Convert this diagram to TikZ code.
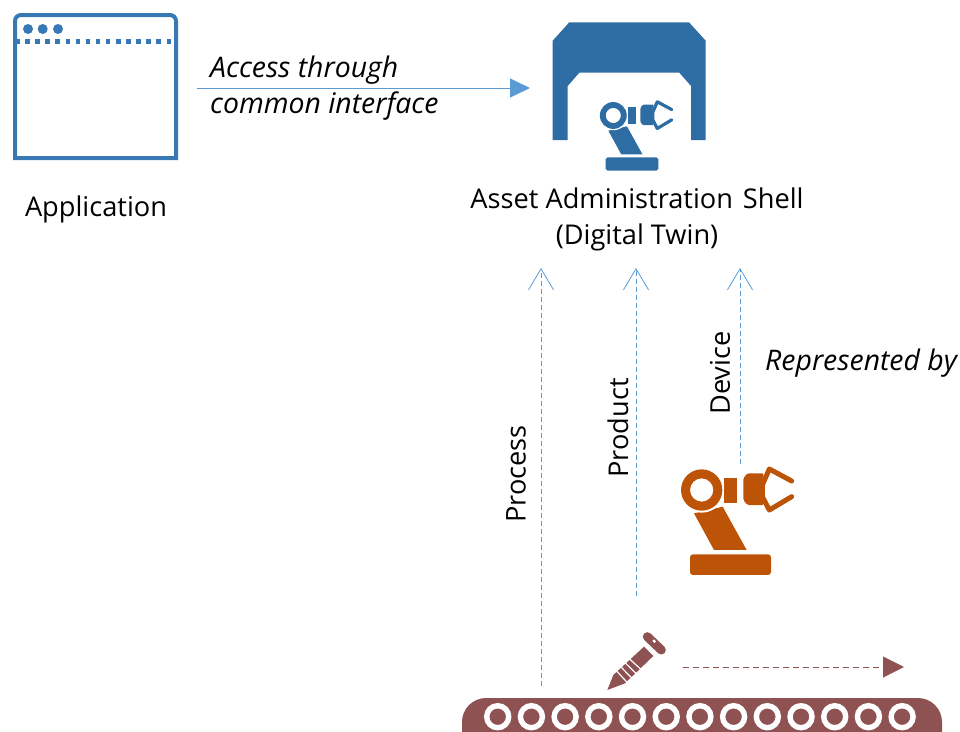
\documentclass[tikz,border=0pt]{standalone}
\usepackage{fontspec}
\setmainfont{Open Sans}
\usetikzlibrary{arrows.meta}
\definecolor{shellblue}{HTML}{2E6DA4}
\definecolor{winblue}{HTML}{3878B5}
\definecolor{linkblue}{HTML}{5B9BD5}
\definecolor{botorange}{HTML}{BD5307}
\definecolor{belt}{HTML}{8E5252}
\tikzset{
  lbl/.style={inner sep=0pt,font=\fontsize{27.2}{36}\selectfont},
  ilbl/.style={lbl,font=\fontsize{28.4}{36}\selectfont\itshape,align=left},
  repline/.style={linkblue,line width=0.8pt,dash pattern=on 5pt off 3pt,-{Straight Barb[length=21pt,width=25pt,line width=0.8pt]}},
}
\newcommand{\drawbot}[2]{%
  \fill[#1] (72,175) -- (158,155) -- (230,285) -- (132,285) -- cycle;
  \fill[white] (95,105) circle[x radius=68,y radius=68];
  \fill[#1,even odd rule] (95,105) circle[x radius=62,y radius=62] (95,105) circle[x radius=35,y radius=35];
  \fill[#1] (162,68) rectangle (200,145);
  \fill[#1,rounded corners=0.3*#2] (282,55) -- (232,55) -- (220,70) -- (220,135) -- (232,150) -- (282,150) -- (272,125) -- (272,90) -- cycle;
  \draw[#1,line width=#2,line cap=round,line join=round] (365,78) -- (298,42) -- (277,90) -- (277,125) -- (298,165) -- (365,125);
  \fill[#1,rounded corners=0.6*#2] (60,298) rectangle (303,360);
}
\begin{document}
\begin{tikzpicture}[x=1pt,y=-1pt]
\useasboundingbox (0,0) rectangle (960,731);
\clip (0,0) rectangle (960,731);
% application window
\draw[winblue,line width=4pt] (15,158) {[rounded corners=6pt] -- (15,15) -- (176,15)} -- (176,158) -- cycle;
\foreach \dx in {28,42.7,58} \fill[winblue] (\dx,29) circle[radius=5];
\draw[winblue,line width=4.5pt,dash pattern=on 4.5pt off 5.6pt] (15,41.3) -- (176,41.3);
\node[lbl,anchor=base] (app) at (96,216) {Application};
% access
\coordinate (accA) at (197,88);
\coordinate (accB) at (530,88);
\draw[linkblue,line width=1pt,-{Triangle[length=20pt,width=19pt]}] (accA) -- (accB);
\node[ilbl,anchor=north west] (access) at (210,55.5) {Access through\\common interface};
% shell
\fill[shellblue] (552.7,140) -- (552.7,40.7) -- (569.3,22.3) -- (689,22.3) -- (705.7,40.7) -- (705.7,140) -- (691,140) -- (691,86) -- (679.3,72.7) -- (579.3,72.7) -- (567.7,86) -- (567.7,140) -- cycle;
\begin{scope}[shift={(605.7,157.3)},x=0.2167pt,y=-0.2167pt,shift={(-60,-298)}]
  \drawbot{shellblue}{3.2pt}
\end{scope}
\node[lbl,align=center,anchor=north] (aas) at (637,188) {Asset Administration\hspace{0.1em} Shell\\(Digital Twin)};
% represented-by arrows
\coordinate (procA) at (541,686); \coordinate (procB) at (541,268);
\coordinate (prodA) at (636,596); \coordinate (prodB) at (636,268);
\coordinate (devA) at (740,464); \coordinate (devB) at (740,268);
\draw[repline] (procA) -- (procB);
\draw[repline] (prodA) -- (prodB);
\draw[repline] (devA) -- (devB);
\node[lbl,rotate=90,anchor=center] (process) at (516,474) {Process};
\node[lbl,rotate=90,anchor=center] (product) at (618,428) {Product};
\node[lbl,rotate=90,anchor=center] (device) at (720,373) {Device};
\node[ilbl,anchor=west] (rep) at (765,363) {Represented by};
% orange robot
\begin{scope}[shift={(670,455)},x=0.3333pt,y=-0.3333pt]
  \drawbot{botorange}{5pt}
\end{scope}
% screw
\begin{scope}[shift={(450,620)},x=0.3333pt,y=-0.3333pt]
  \fill[belt] (472,210) -- (490,165) -- (582,80) -- (610,108) -- (525,190) -- cycle;
  \foreach \k in {0,1,2,3} \draw[white,line width=1.2pt] ({497+\k*14},{150+\k*-11}) -- ({534+\k*14},{190+\k*-13});
  \draw[belt,line width=9pt,line cap=round] (592,50) -- (634,90);
  \fill[white] (607,63) -- (612,58) -- (618,64) -- (613,69) -- cycle;
\end{scope}
% motion arrow
\coordinate (motA) at (683,667);
\coordinate (motB) at (904,667);
\draw[belt,line width=0.9pt,dash pattern=on 6pt off 4pt,-{Triangle[length=21pt,width=21pt]}] (motA) -- (motB);
% conveyor
\fill[belt,rounded corners=24pt] (462,760) rectangle (942,698);
\foreach \i in {0,...,12} \draw[white,line width=5.4pt] ({497.7+33.7*\i},716.7) circle[radius=11];
\end{tikzpicture}
\end{document}
